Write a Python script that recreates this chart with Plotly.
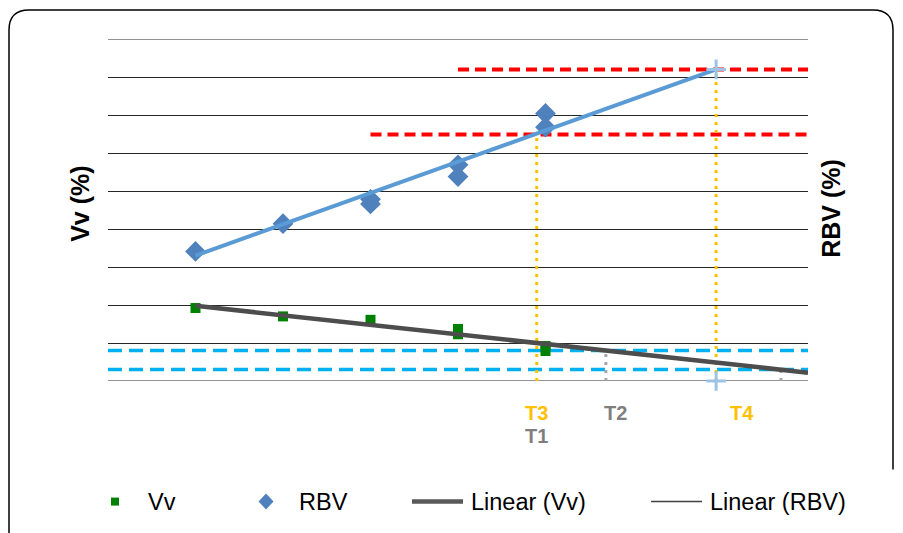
import plotly.graph_objects as go

# ---------------- data ----------------
vv_x = [1, 2, 3, 4, 4, 5, 5]
vv = [1.92, 1.70, 1.61, 1.37, 1.23, 0.92, 0.79]
rbv_x = [1, 2, 3, 3, 4, 4, 5, 5]
rbv = [3.41, 4.14, 4.78, 4.66, 5.69, 5.38, 7.04, 6.68]

trend_vv_x = [1, 8]
trend_vv = [1.98, 0.22]
trend_rbv_x = [1, 6.95]
trend_rbv = [3.30, 8.20]

rbv_limits = [8.20, 6.49]        # red dashed thresholds
rbv_limit_start = [4.0, 3.0]
vv_limits = [0.80, 0.30]         # cyan dashed thresholds

t_yellow_x = [4.90, 6.95]        # T3, T4
t_yellow_top = [6.49, 8.20]
t_gray_x = [5.69, 7.69]          # T2, unlabeled
t_gray_top = [0.80, 0.30]
cross_x = [6.95, 6.95]
cross_y = [8.20, 0.0]

t_labels = ["T3", "T1", "T2", "T4"]
t_label_x = [4.90, 4.90, 5.80, 7.25]
t_label_y = [-0.83, -1.44, -0.83, -0.83]
t_label_col = ["#FFC000", "#7F7F7F", "#7F7F7F", "#FFC000"]

legend_names = ["Vv", "RBV", "Linear (Vv)", "Linear (RBV)"]
y_title_left = "Vv (%)"
y_title_right = "RBV (%)"

# ---------------- geometry ----------------
OFF = 8                      # page body margin
W, H = 903 - OFF, 533 - OFF
L, T = 108 - OFF, 39 - OFF
PW, PH = 700, 342.3
R = W - L - PW
B = H - T - PH
FONT = "Liberation Sans, Arial, sans-serif"
YMIN, YMAX = 0, 9


def px(x):
    return (x - OFF - L) / PW


def py(y):
    return (T + PH - (y - OFF)) / PH


def ypaper(v):
    return (v - YMIN) / (YMAX - YMIN)


fig = go.Figure()

# threshold lines
for val, x0 in zip(rbv_limits, rbv_limit_start):
    fig.add_trace(go.Scatter(x=[x0, 8], y=[val, val], mode="lines",
                             line=dict(color="#FF0000", width=4, dash="11px,6px"),
                             showlegend=False, hoverinfo="skip"))
for val in vv_limits:
    fig.add_trace(go.Scatter(x=[0, 8], y=[val, val], mode="lines",
                             line=dict(color="#00B0F0", width=3.5, dash="14px,7px"),
                             showlegend=False, hoverinfo="skip"))

# vertical dotted guides
for xv, top in zip(t_gray_x, t_gray_top):
    fig.add_trace(go.Scatter(x=[xv, xv], y=[0, top], mode="lines",
                             line=dict(color="#A6A6A6", width=3, dash="3px,5px"),
                             showlegend=False, hoverinfo="skip"))
for xv, top in zip(t_yellow_x, t_yellow_top):
    fig.add_trace(go.Scatter(x=[xv, xv], y=[0, top], mode="lines",
                             line=dict(color="#FFC000", width=3, dash="3px,5px"),
                             showlegend=False, hoverinfo="skip"))

# data markers
fig.add_trace(go.Scatter(x=vv_x, y=vv, mode="markers", name=legend_names[0],
                         marker=dict(symbol="square", size=10, color="#008000"),
                         showlegend=False))
fig.add_trace(go.Scatter(x=rbv_x, y=rbv, mode="markers", name=legend_names[1],
                         marker=dict(symbol="diamond", size=16, color="#4F81BD"),
                         showlegend=False))

# trend lines
fig.add_trace(go.Scatter(x=trend_vv_x, y=trend_vv, mode="lines", name=legend_names[2],
                         line=dict(color="#4D4D4D", width=4.5), showlegend=False))
fig.add_trace(go.Scatter(x=trend_rbv_x, y=trend_rbv, mode="lines", name=legend_names[3],
                         line=dict(color="#5B9BD5", width=4), showlegend=False))

# forecast crosses
fig.add_trace(go.Scatter(x=cross_x, y=cross_y, mode="markers",
                         marker=dict(symbol="cross-thin", size=14,
                                     line=dict(color="#9DC3E6", width=3)),
                         showlegend=False, hoverinfo="skip", cliponaxis=False))

annotations = []
for txt, xv, yv, c in zip(t_labels, t_label_x, t_label_y, t_label_col):
    annotations.append(dict(x=xv, y=ypaper(yv), xref="x", yref="paper",
                            text=f"<b>{txt}</b>", xanchor="center", yanchor="middle",
                            showarrow=False, font=dict(family=FONT, size=20, color=c)))

annotations.append(dict(x=px(80), y=py(204), xref="paper", yref="paper",
                        text=f"<b>{y_title_left}</b>", textangle=-90, showarrow=False,
                        xanchor="center", yanchor="middle",
                        font=dict(family=FONT, size=25, color="#000000")))
annotations.append(dict(x=px(831), y=py(209), xref="paper", yref="paper",
                        text=f"<b>{y_title_right}</b>", textangle=-90, showarrow=False,
                        xanchor="center", yanchor="middle",
                        font=dict(family=FONT, size=25, color="#000000")))

# manual legend
LY = 502
leg_text_x = [146, 297, 469, 708]
for txt, lx in zip(legend_names, leg_text_x):
    annotations.append(dict(x=px(lx), y=py(LY), xref="paper", yref="paper", text=txt,
                            xanchor="left", yanchor="middle", showarrow=False,
                            font=dict(family=FONT, size=23.5, color="#000000")))

shapes = []
# gridlines at range limits
for gv in [YMIN, YMAX]:
    shapes.append(dict(type="line", xref="paper", yref="y", x0=0, x1=1, y0=gv, y1=gv,
                       line=dict(color="#262626", width=1), layer="below"))
# legend square
shapes.append(dict(type="rect", xref="paper", yref="paper",
                   x0=px(111), x1=px(119), y0=py(498), y1=py(506),
                   fillcolor="#008000", line=dict(width=0)))
# legend diamond
cx, cy, hw, hh = 266, 502, 7.5, 8
shapes.append(dict(type="path", xref="paper", yref="paper",
                   path=(f"M {px(cx)},{py(cy-hh)} L {px(cx+hw)},{py(cy)} "
                         f"L {px(cx)},{py(cy+hh)} L {px(cx-hw)},{py(cy)} Z"),
                   fillcolor="#4F81BD", line=dict(width=0)))
# legend lines
shapes.append(dict(type="line", xref="paper", yref="paper",
                   x0=px(412), x1=px(463), y0=py(502), y1=py(502),
                   line=dict(color="#595959", width=4.5)))
shapes.append(dict(type="line", xref="paper", yref="paper",
                   x0=px(651), x1=px(702), y0=py(502), y1=py(502),
                   line=dict(color="#404040", width=1.5)))
# outer rounded border
bx0, bx1, by0, rr = 9, 893, 10, 20
path = (f"M {px(bx0)},{py(560)} L {px(bx0)},{py(by0+rr)} "
        f"Q {px(bx0)},{py(by0)} {px(bx0+rr)},{py(by0)} "
        f"L {px(bx1-rr)},{py(by0)} Q {px(bx1)},{py(by0)} {px(bx1)},{py(by0+rr)} "
        f"L {px(bx1)},{py(470)}")
shapes.append(dict(type="path", xref="paper", yref="paper", path=path,
                   line=dict(color="#000000", width=1.5)))

fig.update_layout(
    width=W, height=H,
    margin=dict(l=L, r=R, t=T, b=B, pad=0),
    paper_bgcolor="#FFFFFF", plot_bgcolor="#FFFFFF",
    showlegend=False,
    xaxis=dict(range=[0, 8], showgrid=False, zeroline=False, showticklabels=False,
               ticks="", showline=False, fixedrange=True),
    yaxis=dict(range=[YMIN, YMAX], dtick=1, tick0=0, showgrid=True, gridcolor="#262626",
               gridwidth=1, zeroline=False, showticklabels=False, ticks="",
               showline=False, fixedrange=True),
    annotations=annotations,
    shapes=shapes,
    font=dict(family=FONT),
)

fig.write_html("out.html")
